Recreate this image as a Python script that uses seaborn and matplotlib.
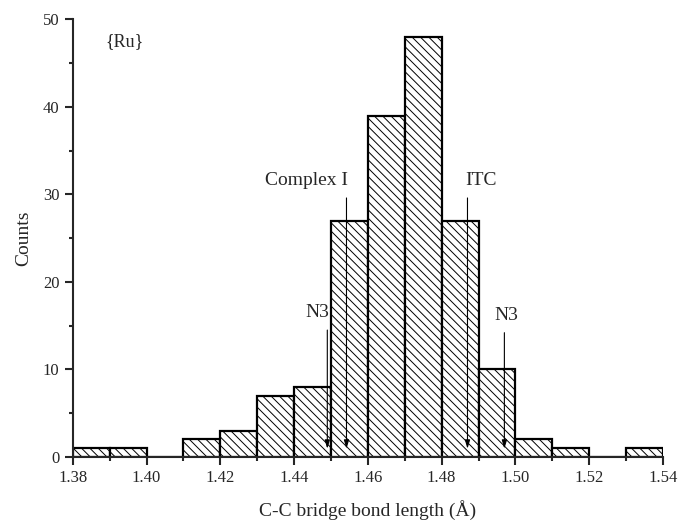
import matplotlib
matplotlib.use('Agg')
import matplotlib.pyplot as plt
from matplotlib.ticker import MultipleLocator
import numpy as np
import seaborn as sns

sns.set_style('ticks')
plt.rcParams['font.family'] = ['Liberation Serif', 'DejaVu Serif']
plt.rcParams['hatch.linewidth'] = 0.7

# histogram of C-C bridge bond lengths, bin width 0.01 A
bin_edges = [1.38, 1.39, 1.40, 1.41, 1.42, 1.43, 1.44, 1.45, 1.46,
             1.47, 1.48, 1.49, 1.50, 1.51, 1.52, 1.53, 1.54]
counts = [1, 1, 0, 2, 3, 7, 8, 27, 39, 48, 27, 10, 2, 1, 0, 1]

# marked structures
mark_labels = ['N3', 'Complex I', 'ITC', 'N3']
mark_x = [1.449, 1.4542, 1.487, 1.497]
mark_top = [14.8, 29.9, 29.9, 14.5]

bin_centers = [(a + b) / 2 for a, b in zip(bin_edges[:-1], bin_edges[1:])]

fig, ax = plt.subplots(figsize=(6.8, 5.22), dpi=100)
sns.histplot(x=bin_centers, weights=counts, bins=bin_edges, ax=ax,
             color='white', edgecolor='black', linewidth=1.6, alpha=1)
for p in ax.patches:
    p.set_hatch('\\\\\\\\')

for lab, xv, top in zip(mark_labels, mark_x, mark_top):
    ax.annotate('', xy=(xv, 0.6), xytext=(xv, top),
                arrowprops=dict(arrowstyle='-|>,head_length=0.5,head_width=0.15',
                                color='black', lw=0.8))

ax.text(1.4545, 31.6, 'Complex I', ha='right', va='center', fontsize=14)
ax.text(1.4495, 16.5, 'N3', ha='right', va='center', fontsize=14)
ax.text(1.4865, 31.6, 'ITC', ha='left', va='center', fontsize=14)
ax.text(1.4975, 16.1, 'N3', ha='center', va='center', fontsize=14)
ax.text(1.3888, 47.5, '{Ru}', ha='left', va='center', fontsize=13)

ax.set_xlim(1.38, 1.54)
ax.set_ylim(0, 50)
ax.xaxis.set_major_locator(MultipleLocator(0.02))
ax.xaxis.set_minor_locator(MultipleLocator(0.01))
ax.yaxis.set_major_locator(MultipleLocator(10))
ax.yaxis.set_minor_locator(MultipleLocator(5))
ax.set_xticklabels([f'{v:.2f}' for v in ax.get_xticks()])
ax.tick_params(which='major', direction='out', length=6, width=1.5, labelsize=12)
ax.tick_params(which='minor', direction='out', length=3, width=1.5)
ax.set_xlabel('C-C bridge bond length (Å)', fontsize=14, labelpad=10)
ax.set_ylabel('Counts', fontsize=14, labelpad=8)
for s in ['left', 'bottom']:
    ax.spines[s].set_linewidth(1.5)
sns.despine(ax=ax)

fig.subplots_adjust(left=0.107, right=0.975, top=0.963, bottom=0.125)
fig.savefig('out.png', dpi=100)
